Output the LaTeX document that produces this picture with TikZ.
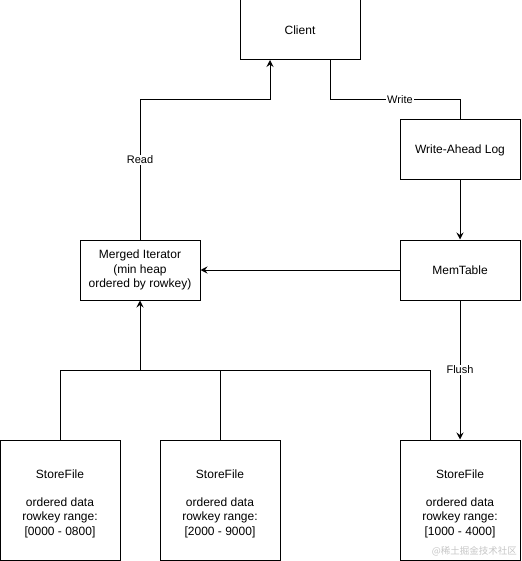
\documentclass[tikz,border=0pt]{standalone}
\usepackage{fontspec}
\setmainfont{Liberation Sans}
\newfontfamily\cjk{Noto Sans CJK SC}
\usetikzlibrary{arrows.meta}
\begin{document}
\begin{tikzpicture}[x=1pt,y=-1pt,
  box/.style={draw,line width=1pt,minimum width=120pt,minimum height=60pt,inner sep=0pt,align=center,font=\fontsize{12}{14.4}\selectfont},
  sbox/.style={box,minimum height=120pt},
  conn/.style={line width=1pt},
  arr/.style={conn,-{Stealth[length=7pt,width=7pt,inset=2.5pt]}},
  lbl/.style={fill=white,inner sep=1pt,font=\fontsize{11}{13}\selectfont}]
\useasboundingbox (0,0) rectangle (521,561);
\node[box] (client) at (300,30) {Client};
\node[box] (wal) at (460,150) {Write-Ahead Log};
\node[box] (mem) at (460,270) {MemTable};
\node[box] (merged) at (140,270) {Merged Iterator\\(min heap\\ordered by rowkey)};
\node[sbox] (sf1) at (60,500) {};
\node[sbox] (sf2) at (220,500) {};
\node[sbox] (sf3) at (460,500) {};
\node[align=center,inner sep=0pt,font=\fontsize{12}{14.4}\selectfont] (t1) at (60,503.5) {StoreFile\\[14pt]ordered data\\rowkey range:\\{[0000 - 0800]}};
\node[align=center,inner sep=0pt,font=\fontsize{12}{14.4}\selectfont] (t2) at (220,503.5) {StoreFile\\[14pt]ordered data\\rowkey range:\\{[2000 - 9000]}};
\node[align=center,inner sep=0pt,font=\fontsize{12}{14.4}\selectfont] (t3) at (460,503.5) {StoreFile\\[14pt]ordered data\\rowkey range:\\{[1000 - 4000]}};
\coordinate (bus) at (140,370);
% Read
\draw[arr] (merged.north) |- (270,100) node[pos=0.286,lbl] {Read} -- (270,60);
% Write
\draw[conn] (330,60) |- (460,100) node[pos=0.769,lbl] {Write} -- (wal.north);
\draw[arr] (wal) -- (mem);
\draw[arr] (mem) -- (merged);
\draw[arr] (mem) -- node[lbl,pos=0.5] {Flush} (sf3);
% bus
\draw[conn] (sf1.north) |- (bus);
\draw[conn] (sf2.north) |- (bus);
\draw[conn] (430,440) |- (bus);
\draw[arr] (bus) -- (merged.south);
\node[text=gray!45,font=\cjk\fontsize{9.5}{10}\selectfont,anchor=east,inner sep=0pt] (wm) at (517,551) {@稀土掘金技术社区};
\end{tikzpicture}
\end{document}
